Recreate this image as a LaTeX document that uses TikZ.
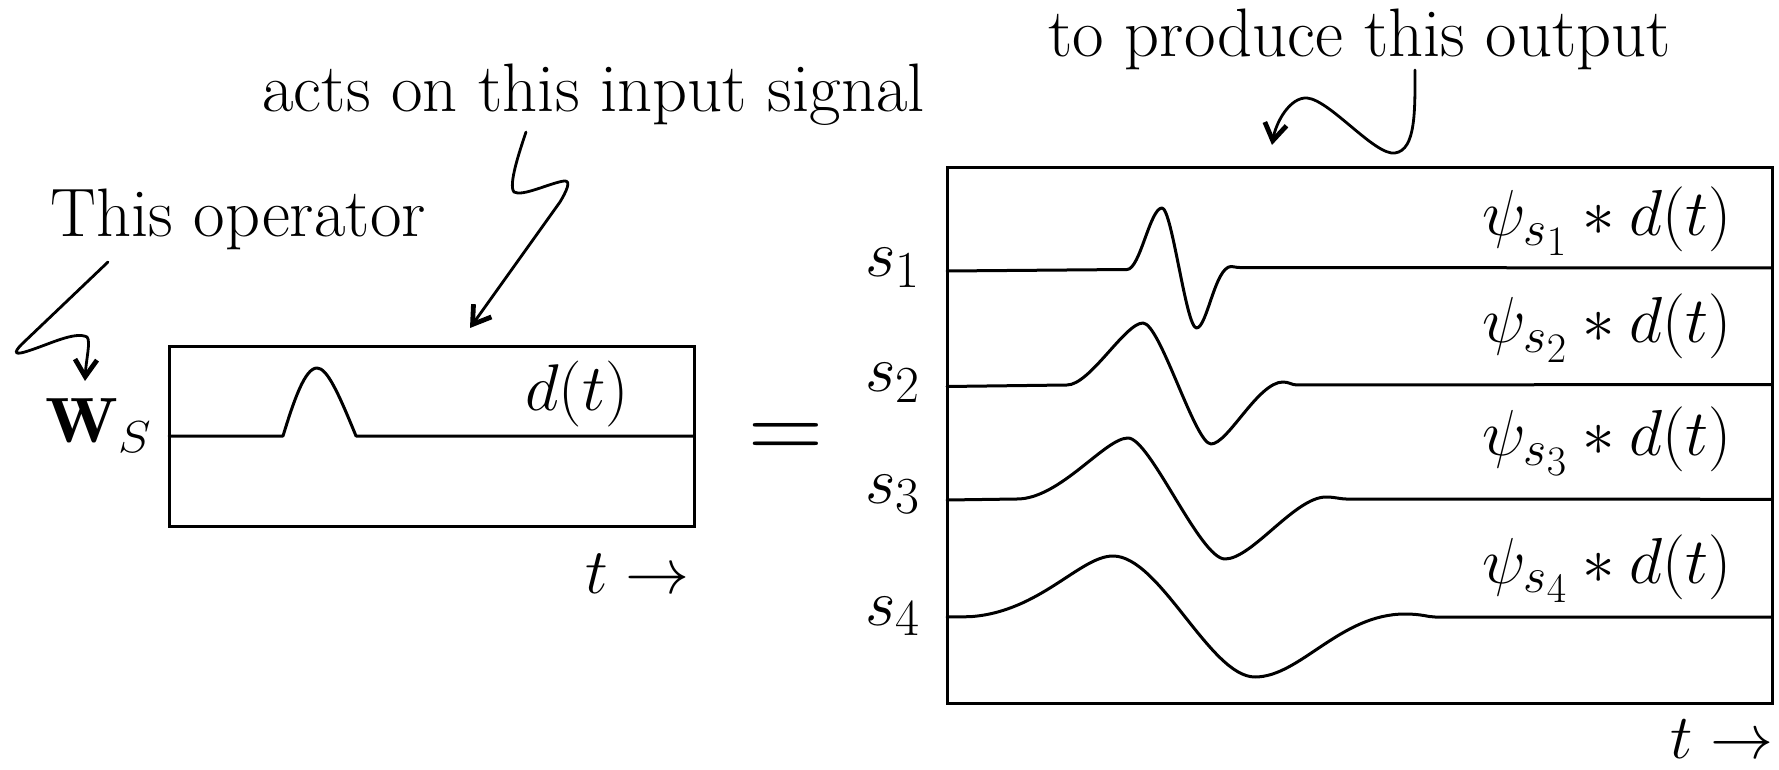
\RequirePackage{fix-cm}
\documentclass[tikz,border=0pt]{standalone}
\usepackage{fontspec}
\usetikzlibrary{arrows.meta}
\DeclareMathSizes{33}{33}{26}{22}
\DeclareMathSizes{32.5}{32.5}{25}{21}
\tikzset{
  frame/.style={line width=1.5pt},
  sig/.style={line width=1.5pt, line join=round, line cap=round},
  callout/.style={line width=1.4pt, line cap=round,
    -{Straight Barb[length=8.5pt,width=11pt,line width=2.4pt]}},
  big/.style={inner sep=0pt, font=\fontsize{34.3}{40}\selectfont},
  slab/.style={inner sep=0pt, font=\fontsize{33}{40}\selectfont, anchor=base east},
  plab/.style={inner sep=0pt, font=\fontsize{32.5}{40}\selectfont, anchor=base east},
}
\begin{document}
\begin{tikzpicture}[x=0.5pt,y=-0.5pt]
\useasboundingbox (0,0) rectangle (1779,770);

% ---------- texts ----------
\node[big, anchor=base west] (op) at (50,237) {This operator};
\node[big, anchor=base west] (acts) at (262,112) {acts on this input signal};
\node[big, anchor=base west] (prod) at (1048,57) {to produce this output};
\node[inner sep=0pt, font=\fontsize{32}{40}\selectfont, anchor=base west] (ws) at (45,443) {\scalebox{1.1}[1]{$\mathbf{W}_S$}};
\node[inner sep=0pt, font=\fontsize{33}{40}\selectfont, anchor=base west] (dt) at (525,410) {$d(t)$};
\node[inner sep=0pt, font=\fontsize{32}{38}\selectfont, anchor=base west] (tl) at (585,593) {$t\rightarrow$};
\node[inner sep=0pt, font=\fontsize{31.5}{38}\selectfont, anchor=base west] (tr) at (1670,758) {$t\rightarrow$};
\node[inner sep=0pt, font=\fontsize{52}{60}\selectfont, anchor=base] (eq) at (786,460) {$=$};

\node[slab] (s1) at (921,277) {$s_1$};
\node[slab] (s2) at (921,392) {$s_2$};
\node[slab] (s3) at (921,503) {$s_3$};
\node[slab] (s4) at (921,625) {$s_4$};

\node[plab] (p1) at (1732,236) {$\psi_{s_1} * d(t)$};
\node[plab] (p2) at (1732,343) {$\psi_{s_2} * d(t)$};
\node[plab] (p3) at (1732,456) {$\psi_{s_3} * d(t)$};
\node[plab] (p4) at (1732,583) {$\psi_{s_4} * d(t)$};

% ---------- left panel ----------
\draw[frame] (169,347) rectangle (694,526);
\draw[sig] (169,436) -- (283,436)
  .. controls (294,400) and (305,368) .. (317,368)
  .. controls (327,368) and (338,392) .. (356,436) -- (694,436);

% ---------- right panel ----------
\draw[frame] (947,168) rectangle (1772,703);
\draw[sig] (947,271) -- (1127,269.5)
  .. controls (1140,269.5) and (1150,208) .. (1162,208)
  .. controls (1172,208) and (1186,328) .. (1196.5,328)
  .. controls (1207,328) and (1215,267) .. (1231,266.5)
  .. controls (1234,266.5) and (1236,267.5) .. (1238,267.5) -- (1772,268);
\draw[sig] (947,386.5) -- (1067,385)
  .. controls (1090,385) and (1125,323) .. (1143,323)
  .. controls (1160,323) and (1195,444) .. (1211,444)
  .. controls (1228,444) and (1258,382) .. (1283,382)
  .. controls (1289,382) and (1292,385) .. (1297,385) -- (1772,384.5);
\draw[sig] (947,500) -- (1017,499)
  .. controls (1060,499) and (1105,438) .. (1128,438)
  .. controls (1150,438) and (1200,559) .. (1225,559)
  .. controls (1252,559) and (1295,497) .. (1326,497)
  .. controls (1335,497) and (1340,499) .. (1346,499) -- (1772,499.3);
\draw[sig] (947,617) -- (970,616.7)
  .. controls (1040,612) and (1080,556) .. (1113,556)
  .. controls (1160,556) and (1210,677) .. (1255,677)
  .. controls (1300,677) and (1340,614) .. (1405,614)
  .. controls (1422,614) and (1428,617) .. (1435,617) -- (1772,617);

% ---------- callout arrows ----------
\coordinate (opA) at (108,262);
\coordinate (opB) at (85,381);
\draw[callout] (opA) -- (22,344)
  .. controls (12,354) and (16,355) .. (28,351)
  .. controls (50,344) and (75,331) .. (87,337)
  .. controls (91,341) and (86,360) .. (opB);

\coordinate (inA) at (526,132);
\coordinate (inB) at (470,328);
\draw[callout] (inA) .. controls (520,150) and (508,185) .. (514,192)
  .. controls (522,197) and (550,183) .. (564,181)
  .. controls (572,180) and (566,192) .. (560,202) -- (inB);

\coordinate (outA) at (1415,70);
\coordinate (outB) at (1272,145);
\draw[callout] (outA) .. controls (1415,110) and (1416,150) .. (1395,153)
  .. controls (1375,156) and (1330,100) .. (1307,98)
  .. controls (1290,97) and (1276,122) .. (outB);
\end{tikzpicture}
\end{document}
